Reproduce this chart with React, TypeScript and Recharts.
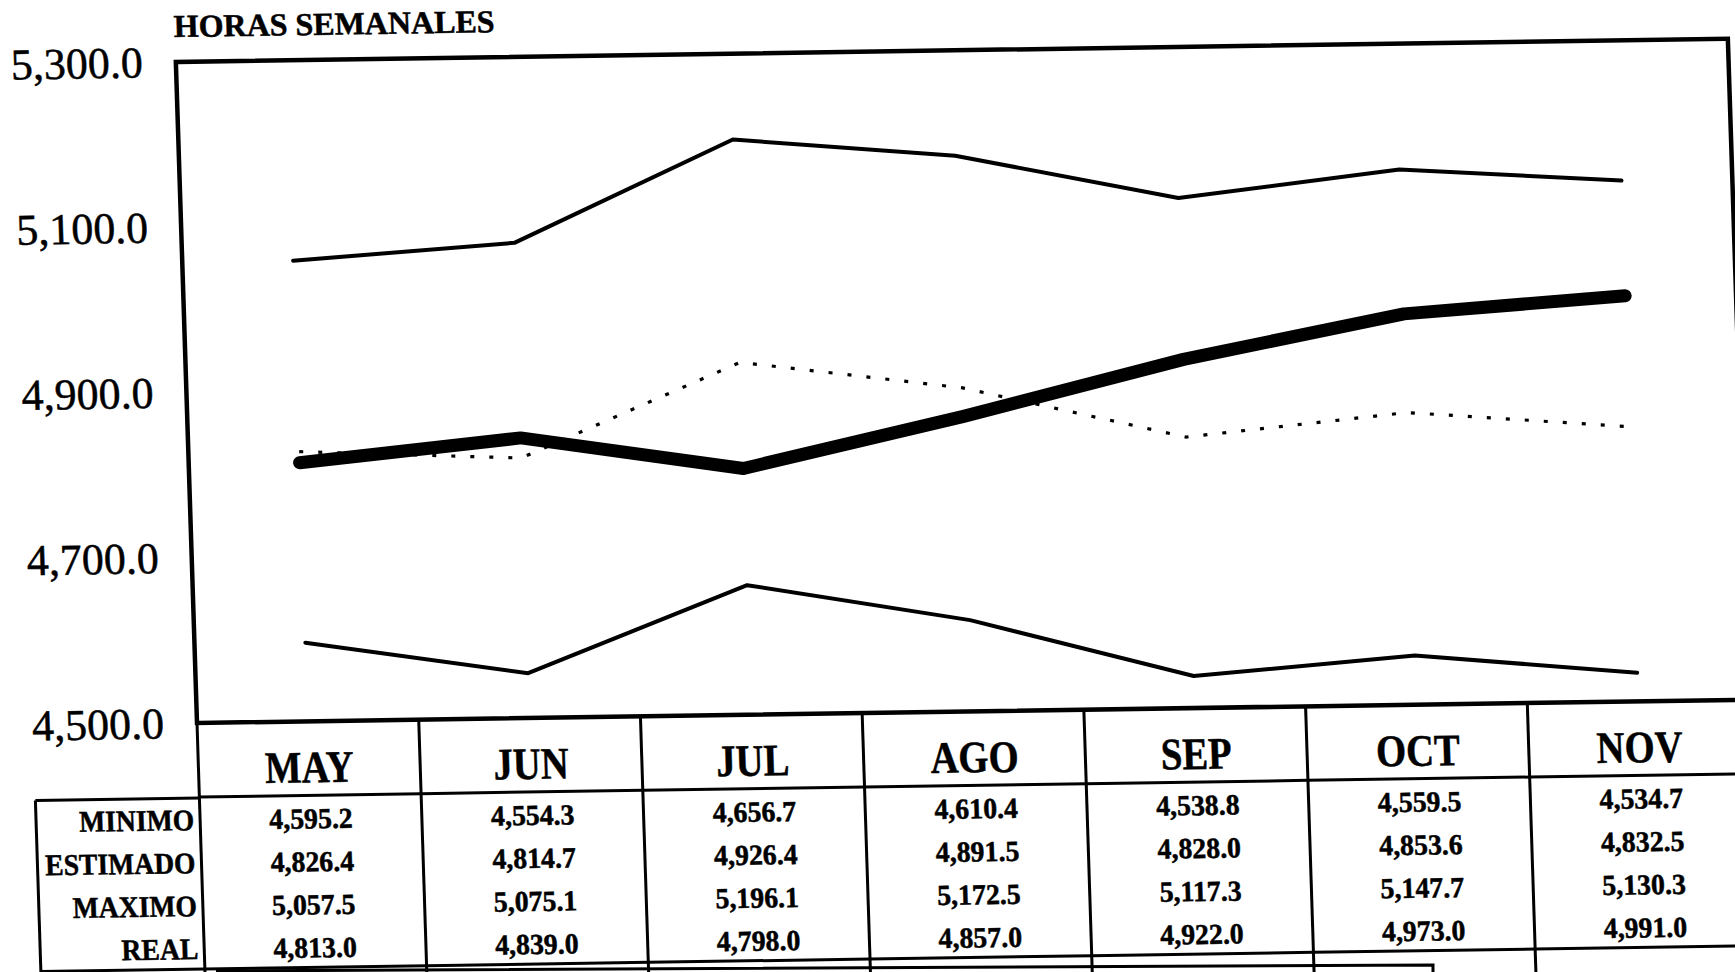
import React from 'react';
import { LineChart, Line, XAxis, YAxis, ReferenceArea } from 'recharts';

const months = ['MAY', 'JUN', 'JUL', 'AGO', 'SEP', 'OCT', 'NOV'];
const minimo = [4595.2, 4554.3, 4656.7, 4610.4, 4538.8, 4559.5, 4534.7];
const estimado = [4826.4, 4814.7, 4926.4, 4891.5, 4828.0, 4853.6, 4832.5];
const maximo = [5057.5, 5075.1, 5196.1, 5172.5, 5117.3, 5147.7, 5130.3];
const real = [4813.0, 4839.0, 4798.0, 4857.0, 4922.0, 4973.0, 4991.0];
const yTicks = [4500, 4700, 4900, 5100, 5300];
const rowNames = ['MINIMO', 'ESTIMADO', 'MAXIMO', 'REAL'];
const rowSeries = [minimo, estimado, maximo, real];
const title = 'HORAS SEMANALES';

const data = months.map((m, i) => ({
  mes: m,
  minimo: minimo[i],
  estimado: estimado[i],
  maximo: maximo[i],
  real: real[i],
}));

const FONT = "'Liberation Serif', 'Times New Roman', Times, serif";
const CHART_W = 1780;
const CHART_H = 1000;
const PLOT_LEFT = 197;
const PLOT_TOP = 62;
const PLOT_BOTTOM = 723;
const PLOT_W = 1552;
const COL_W = PLOT_W / months.length;
const HEADER_BOTTOM = 797;
const TABLE_BOTTOM = 969;
const ROW_H = (TABLE_BOTTOM - HEADER_BOTTOM) / 4;
const LABEL_BOX_LEFT = 33;
const INK = { fill: '#000', stroke: '#000', strokeWidth: 0.5 };

const fmt = (v: number) =>
  v.toLocaleString('en-US', { minimumFractionDigits: 1, maximumFractionDigits: 1 });

const YTick = (props: any) => {
  const { y, payload } = props;
  return (
    <text x={164} y={y + 15} textAnchor="end" fontSize={44} fontFamily={FONT} {...INK}>
      {fmt(payload.value)}
    </text>
  );
};

const TableTick = (props: any) => {
  const { payload, index } = props;
  const cx = payload.coordinate;
  const left = cx - COL_W / 2;
  const right = cx + COL_W / 2;
  const i = index ?? payload.index;
  const isLast = i === months.length - 1;
  return (
    <g>
      <line x1={left} y1={PLOT_BOTTOM} x2={left} y2={CHART_H} stroke="#000" strokeWidth={3} />
      {isLast && (
        <line x1={right} y1={PLOT_BOTTOM} x2={right} y2={CHART_H} stroke="#000" strokeWidth={3} />
      )}
      <line x1={left} y1={HEADER_BOTTOM} x2={right} y2={HEADER_BOTTOM} stroke="#000" strokeWidth={3} />
      <line x1={left} y1={TABLE_BOTTOM} x2={right} y2={TABLE_BOTTOM} stroke="#000" strokeWidth={3} />
      <text
        transform={`translate(${cx},${HEADER_BOTTOM - 13}) scale(0.86,1)`}
        textAnchor="middle"
        fontSize={45}
        fontWeight="bold"
        fontFamily={FONT}
        {...INK}
      >
        {payload.value}
      </text>
      {rowSeries.map((s, r) => (
        <text
          key={r}
          transform={`translate(${cx},${HEADER_BOTTOM + ROW_H * r + 33}) scale(0.96,1)`}
          textAnchor="middle"
          fontSize={29}
          fontWeight="bold"
          fontFamily={FONT}
          {...INK}
        >
          {fmt(s[i])}
        </text>
      ))}
      {i === 0 && (
        <g>
          <line x1={LABEL_BOX_LEFT} y1={HEADER_BOTTOM + 1} x2={left} y2={HEADER_BOTTOM + 1} stroke="#000" strokeWidth={3} />
          <line x1={LABEL_BOX_LEFT} y1={HEADER_BOTTOM + 1} x2={LABEL_BOX_LEFT} y2={CHART_H} stroke="#000" strokeWidth={3} />
          <line x1={LABEL_BOX_LEFT} y1={TABLE_BOTTOM} x2={left} y2={TABLE_BOTTOM} stroke="#000" strokeWidth={3} />
          {rowNames.map((n, r) => (
            <text
              key={n}
              transform={`translate(${left - 6},${HEADER_BOTTOM + ROW_H * r + 33}) scale(0.92,1)`}
              textAnchor="end"
              fontSize={30}
              fontWeight="bold"
              fontFamily={FONT}
              {...INK}
            >
              {n}
            </text>
          ))}
        </g>
      )}
    </g>
  );
};

export default function App() {
  return (
    <div style={{ position: 'fixed', left: 0, top: 0, width: 1735, height: 972, overflow: 'hidden', background: '#fff' }}>
      <div
        style={{
          position: 'absolute',
          left: 0,
          top: 0,
          width: CHART_W,
          height: CHART_H,
          transformOrigin: `${PLOT_LEFT}px ${PLOT_BOTTOM}px`,
          transform: 'matrix(1, -0.015, 0.032, 1, 0, 0)',
        }}
      >
        <LineChart
          width={CHART_W}
          height={CHART_H}
          data={data}
          margin={{ top: PLOT_TOP, left: 0, right: CHART_W - PLOT_LEFT - PLOT_W, bottom: 0 }}
        >
          <XAxis
            dataKey="mes"
            type="category"
            scale="band"
            height={CHART_H - PLOT_BOTTOM}
            axisLine={false}
            tickLine={false}
            interval={0}
            tick={<TableTick />}
          />
          <YAxis
            type="number"
            domain={[4500, 5300]}
            ticks={yTicks}
            allowDataOverflow
            width={PLOT_LEFT}
            axisLine={false}
            tickLine={false}
            interval={0}
            tick={<YTick />}
          />
          <ReferenceArea y1={4500} y2={5300} fill="none" stroke="#000" strokeWidth={4.5} />
          <Line dataKey="maximo" stroke="#000" strokeWidth={4} dot={false} activeDot={false} isAnimationActive={false} strokeLinejoin="round" strokeLinecap="round" />
          <Line dataKey="minimo" stroke="#000" strokeWidth={4} dot={false} activeDot={false} isAnimationActive={false} strokeLinejoin="round" strokeLinecap="round" />
          <Line dataKey="estimado" stroke="#000" strokeWidth={3.2} strokeDasharray="4 15" dot={false} activeDot={false} isAnimationActive={false} />
          <Line dataKey="real" stroke="#000" strokeWidth={13} strokeLinecap="round" strokeLinejoin="round" dot={false} activeDot={false} isAnimationActive={false} />
        </LineChart>
        <svg width={CHART_W} height={CHART_H} style={{ position: 'absolute', left: 0, top: 0, pointerEvents: 'none' }}>
          <text x={196} y={37} fontSize={32} fontWeight="bold" fontFamily={FONT} {...INK}>
            {title}
          </text>
        </svg>
      </div>
      <svg width={1735} height={972} style={{ position: 'absolute', left: 0, top: 0, pointerEvents: 'none' }}>
        <polyline points="216,971 1433,965 1433,975" fill="none" stroke="#000" strokeWidth={3} />
      </svg>
    </div>
  );
}
